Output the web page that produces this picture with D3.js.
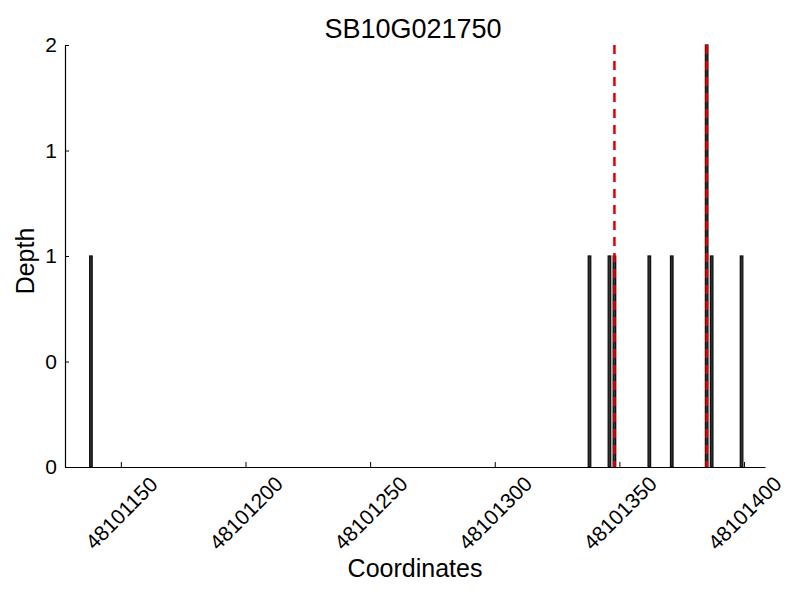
<!DOCTYPE html>
<html>
<head>
<meta charset="utf-8">
<script src="https://cdn.jsdelivr.net/npm/d3@7"></script>
<style>
  body { margin: 0; background: #fff; }
  text { font-family: "Liberation Sans", Arial, sans-serif; }
</style>
</head>
<body>
<svg id="chart" width="800" height="600"></svg>
<script>
const title = "SB10G021750";
const positions = [48101138, 48101338, 48101346, 48101348, 48101362, 48101371, 48101385, 48101387, 48101399];
const depths    = [1, 1, 1, 1, 1, 1, 2, 1, 1];
const markerPositions = [48101348, 48101385];
const xTicks = [48101150, 48101200, 48101250, 48101300, 48101350, 48101400];
const yTicks = [0, 0.5, 1, 1.5, 2];
const yTickLabels = ["0", "0", "1", "1", "2"];
const xDomain = [48101127.6, 48101408.4];
const yDomain = [0, 2];

const svg = d3.select("#chart");
const mLeft = 65, mRight = 765, mTop = 45, mBottom = 467;

const x = d3.scaleLinear().domain(xDomain).range([mLeft, mRight]);
const y = d3.scaleLinear().domain(yDomain).range([mBottom, mTop]);

// bars
const data = positions.map((p, i) => ({ p, d: depths[i] }));
svg.append("g").selectAll("rect").data(data).enter().append("rect")
  .attr("x", d => x(d.p - 0.5))
  .attr("width", d => x(d.p + 0.5) - x(d.p - 0.5))
  .attr("y", d => y(d.d))
  .attr("height", d => y(0) - y(d.d))
  .attr("fill", "#333")
  .attr("stroke", "#111")
  .attr("stroke-width", 1.3);

// red dashed markers
svg.append("g").selectAll("line").data(markerPositions).enter().append("line")
  .attr("x1", d => x(d)).attr("x2", d => x(d))
  .attr("y1", y(2)).attr("y2", y(0))
  .attr("stroke", "#e00000")
  .attr("stroke-width", 2.5)
  .attr("stroke-dasharray", "9,7");

// x axis
const xAxis = d3.axisBottom(x).tickValues(xTicks).tickSizeInner(-5).tickSizeOuter(0).tickFormat(d3.format("d"));
const gx = svg.append("g").attr("transform", `translate(0,${mBottom})`).call(xAxis);
gx.select(".domain").attr("stroke", "#000").attr("stroke-width", 1.2);
gx.selectAll(".tick line").attr("stroke", "#000");
gx.selectAll(".tick text")
  .attr("font-size", 21)
  .attr("fill", "#000")
  .attr("text-anchor", "middle")
  .attr("dominant-baseline", "central")
  .attr("y", 0).attr("dy", 0)
  .attr("transform", "translate(0,46) rotate(-45)");

// y axis
const yAxis = d3.axisLeft(y).tickValues(yTicks).tickSizeInner(-4).tickSizeOuter(0)
  .tickFormat((d, i) => yTickLabels[i]);
const gy = svg.append("g").attr("transform", `translate(${mLeft},0)`).call(yAxis);
gy.select(".domain").attr("stroke", "#000").attr("stroke-width", 1.2);
gy.selectAll(".tick line").attr("stroke", "#000");
gy.selectAll(".tick text").attr("font-size", 21).attr("fill", "#000").attr("x", -8);

// title and labels
svg.append("text").attr("x", 413).attr("y", 38).attr("text-anchor", "middle")
  .attr("font-size", 27).text(title);
svg.append("text").attr("x", 415).attr("y", 577).attr("text-anchor", "middle")
  .attr("font-size", 25).text("Coordinates");
svg.append("text").attr("transform", "translate(34,261) rotate(-90)").attr("text-anchor", "middle")
  .attr("font-size", 25).text("Depth");
</script>
</body>
</html>
